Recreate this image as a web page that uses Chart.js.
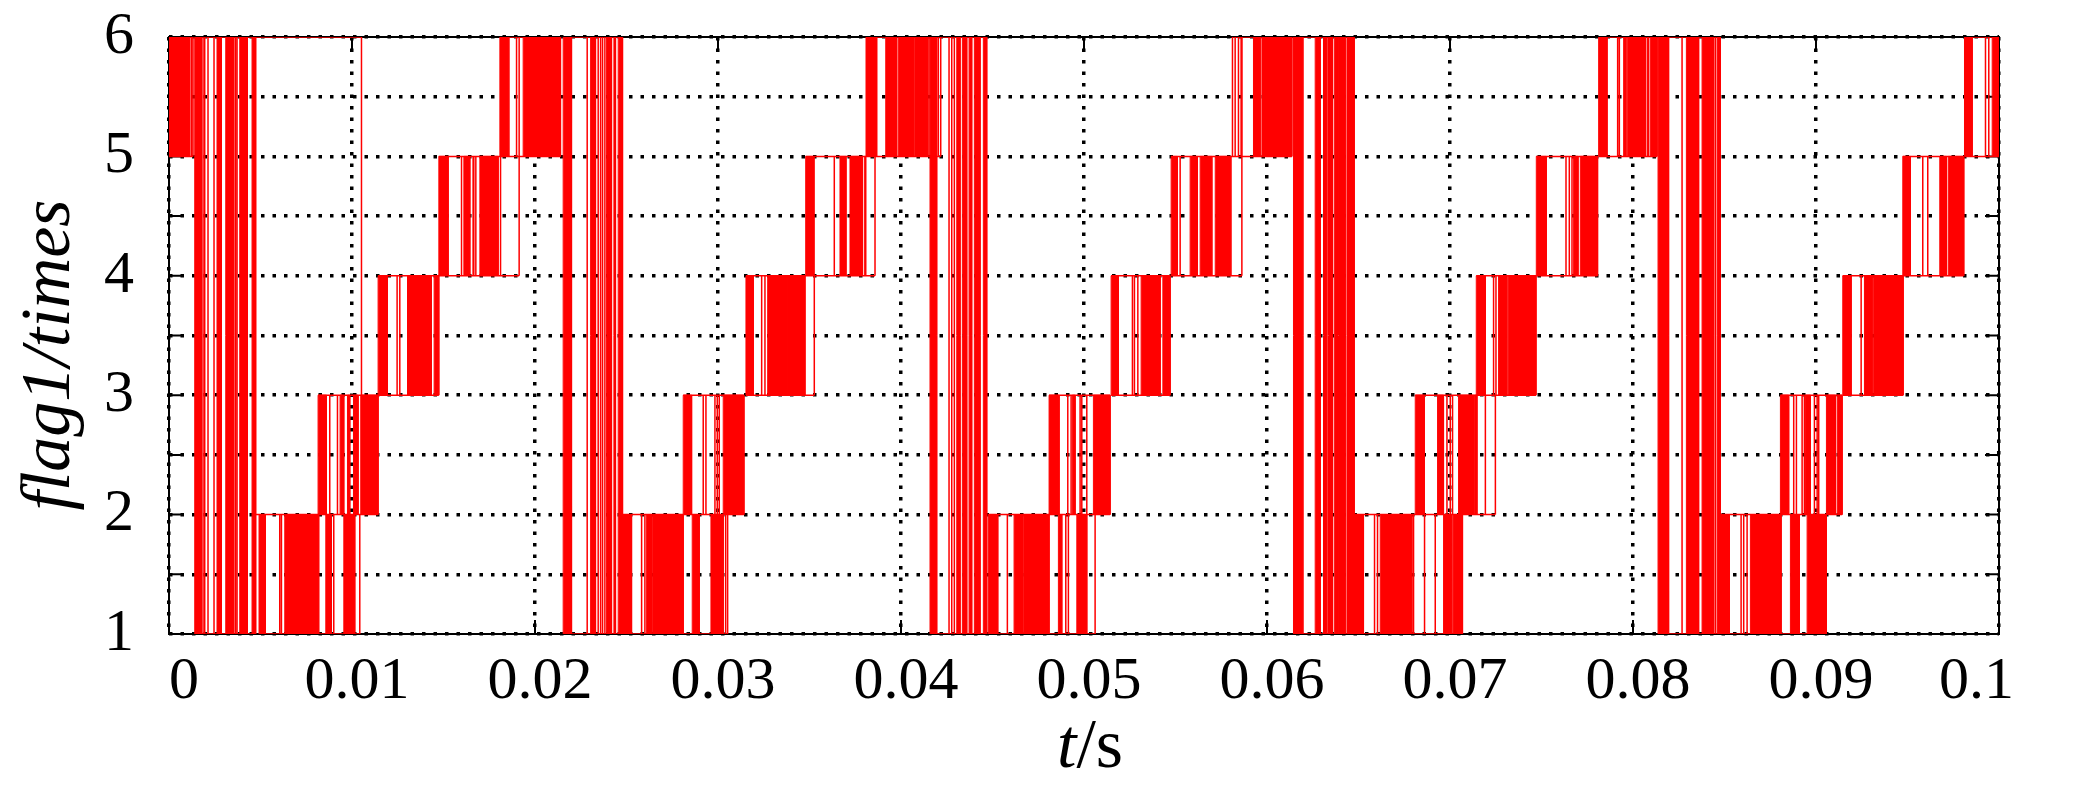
<!DOCTYPE html>
<html>
<head>
<meta charset="utf-8">
<script src="https://cdn.jsdelivr.net/npm/chart.js@4.4.0/dist/chart.umd.min.js"></script>
<style>
  html, body { margin: 0; padding: 0; background: #fff; }
</style>
</head>
<body>
<canvas id="flagChart" width="2078" height="785"></canvas>
<script>
// flag1 sector signal, all times in ms (axis is in s)
// one entry per sector: time span and the two levels it toggles between
const sectorStart = [0, 1.405, 4.740, 4.920, 8.146, 11.426, 14.744, 18.079, 21.540, 24.787, 28.100, 31.527, 34.791, 38.088, 41.586, 44.774,
    48.092, 51.482, 54.762, 58.113, 61.448, 64.766, 68.101, 71.436, 74.716, 78.122, 81.369, 84.774, 88.055, 91.461, 94.741, 98.114]
const sectorEnd = [1.312, 4.740, 10.518, 10.425, 11.426, 14.744, 19.134, 21.398, 24.787, 30.527, 31.418, 35.262, 38.580, 42.171, 44.686, 50.607,
    51.427, 54.707, 58.627, 61.360, 64.766, 70.687, 72.480, 74.699, 78.067, 81.314, 84.774, 90.570, 91.428, 94.763, 98.076, 100]
const sectorLo = [5, 1, 2, 1, 2, 3, 4, 5, 1, 1, 2, 3, 4, 5, 1, 1, 2, 3, 4, 5, 1, 1, 2, 3, 4, 5, 1, 1, 2, 3, 4, 5]
const sectorHi = [6, 6, 6, 2, 3, 4, 5, 6, 6, 2, 3, 4, 5, 6, 6, 2, 3, 4, 5, 6, 6, 2, 3, 4, 5, 6, 6, 2, 3, 4, 5, 6]

// dense chatter (looks solid): start/end pairs per sector
const bandEdges = [
    [0, 1.132],
    [1.405, 1.771, 2.624, 2.865, 3.100, 3.537, 3.865, 4.286, 4.538, 4.685],
    [],
    [4.920, 5.270, 6.325, 8.113, 8.567, 8.878, 9.551, 10.152],
    [8.146, 8.605, 9.348, 9.551, 9.753, 9.879, 10.081, 10.333, 10.480, 11.426],
    [11.426, 11.940, 13.033, 14.345, 14.487, 14.744],
    [14.744, 15.253, 16.111, 16.439, 16.986, 17.986],
    [18.079, 18.571, 19.353, 21.398],
    [21.540, 21.999, 23.038, 23.311, 23.912, 24.185, 24.311, 24.404, 24.546, 24.787],
    [24.787, 25.279, 26.099, 26.372, 26.427, 28.100, 28.592, 28.975, 29.614, 30.286],
    [28.100, 28.559, 30.286, 31.418],
    [31.527, 31.927, 32.714, 33.786, 33.824, 34.753],
    [34.791, 35.245, 36.666, 36.994, 37.213, 37.886, 37.995, 38.072],
    [38.088, 38.673, 39.165, 39.766, 39.854, 40.674, 40.729, 41.461],
    [41.586, 41.953, 43.046, 43.227, 43.353, 43.593, 43.719, 43.866, 44.008, 44.320, 44.500, 44.686],
    [44.774, 45.288, 46.179, 46.632, 46.687, 48.092, 48.601, 48.787, 49.606, 50.153],
    [48.092, 48.639, 49.366, 49.514, 50.514, 51.427],
    [51.482, 51.881, 53.122, 54.161, 54.308, 54.707],
    [54.762, 55.106, 55.800, 56.199, 56.347, 56.987, 57.172, 58.026],
    [58.572, 58.627, 59.261, 59.627, 59.720, 61.360],
    [61.448, 61.962, 62.634, 62.907, 63.088, 63.274, 63.361, 63.580, 63.673, 63.853, 63.908, 64.274, 64.367, 64.766],
    [64.766, 65.275, 66.187, 67.920, 69.648, 70.107, 70.194, 70.687],
    [68.101, 68.593, 69.320, 69.648, 70.468, 71.288, 71.343, 71.473],
    [71.436, 71.933, 72.654, 73.114, 73.201, 74.699],
    [74.716, 75.262, 76.755, 76.996, 77.121, 78.067],
    [78.122, 78.581, 79.488, 79.619, 79.707, 80.674, 80.767, 80.855, 80.948, 81.314],
    [81.369, 81.948, 82.917, 83.588, 83.774, 84.409, 84.594, 84.774],
    [84.774, 85.267, 86.415, 88.094, 88.602, 89.094, 89.515, 90.570],
    [88.055, 88.509, 89.422, 89.695, 90.570, 91.062, 91.155, 91.428],
    [91.461, 91.920, 92.647, 93.068, 93.123, 94.763],
    [94.741, 95.162, 96.763, 97.130, 97.223, 98.076],
    [98.114, 98.535, 99.628, 100]
]

// single isolated switchings (thin lines) per sector
const spikeTimes = [
    [1.225, 1.312],
    [1.859, 1.952, 2.132, 2.460, 3.630, 3.718, 4.740],
    [10.518],
    [6.052, 6.145, 8.184, 9.004, 10.425],
    [8.785, 9.206],
    [12.465, 12.612],
    [15.985, 16.619, 16.657, 16.767, 18.117, 19.134],
    [18.992, 19.134],
    [22.852, 23.453, 23.584, 23.693, 23.819],
    [25.826, 26.006, 30.418, 30.527],
    [29.193, 29.341, 29.833, 29.959, 30.068],
    [32.386, 32.566, 35.262],
    [36.355, 38.580],
    [41.532, 42.040, 42.171],
    [42.625, 42.773, 42.915],
    [45.812, 49.005, 49.147, 50.607],
    [49.114, 49.295, 49.787, 49.880, 50.153],
    [52.646, 52.756, 52.942],
    [55.254, 58.627],
    [58.113, 58.260, 58.441],
    [],
    [65.876, 66.040, 68.008, 68.609, 69.194],
    [69.834, 70.014, 70.140, 71.933, 72.480],
    [72.381, 72.512],
    [76.339, 76.520, 76.667],
    [79.161, 79.254],
    [82.681, 84.501],
    [85.907, 86.049, 86.235],
    [88.782, 88.930, 89.241, 89.367, 89.914, 90.062, 90.149],
    [92.467],
    [95.834, 96.107],
    [99.262, 99.442]
]

const xTicks = [0, 0.01, 0.02, 0.03, 0.04, 0.05, 0.06, 0.07, 0.08, 0.09, 0.1]
const yTicks = [1, 2, 3, 4, 5, 6]

const RED = '#ff0000'
const FONT = '"Liberation Serif", "Times New Roman", serif'
const sec = t => t / 1000

const datasets = []

bandEdges.forEach((edges, s) => {
    const lo = sectorLo[s], hi = sectorHi[s]
    for (let i = 0; i < edges.length; i += 2) {
        datasets.push({
            data: [{x: sec(edges[i]), y: lo}, {x: sec(edges[i]), y: hi}, {x: sec(edges[i + 1]), y: hi}, {x: sec(edges[i + 1]), y: lo}],
            borderColor: RED,
            backgroundColor: RED,
            borderWidth: 1,
            fill: {value: lo},
        })
    }
})

const spikePts = []
spikeTimes.forEach((times, s) => {
    times.forEach(t => {
        spikePts.push({x: sec(t), y: sectorLo[s]}, {x: sec(t), y: sectorHi[s]}, {x: sec(t), y: null})
    })
})
datasets.push({data: spikePts, borderColor: RED, borderWidth: 1.5, fill: false})

// level lines the signal rests on inside each sector
const runPts = []
sectorStart.forEach((t0, s) => {
    const t1 = sectorEnd[s]
    runPts.push({x: sec(t0), y: sectorLo[s]}, {x: sec(t1), y: sectorLo[s]}, {x: sec(t1), y: null})
    runPts.push({x: sec(t0), y: sectorHi[s]}, {x: sec(t1), y: sectorHi[s]}, {x: sec(t1), y: null})
})
datasets.push({data: runPts, borderColor: RED, borderWidth: 1.5, fill: false})

const framePlugin = {
    id: 'frame',
    beforeDatasetsDraw (chart) {
        const {ctx, chartArea: a, scales} = chart
        ctx.save()
        ctx.strokeStyle = '#000'
        ctx.lineWidth = 2
        ctx.strokeRect(a.left, a.top, a.right - a.left, a.bottom - a.top)
        ctx.beginPath()
        for (let v = 1; v <= 6; v += 0.5) {
            const y = scales.y.getPixelForValue(v)
            ctx.moveTo(a.left, y); ctx.lineTo(a.left + 14, y)
            ctx.moveTo(a.right, y); ctx.lineTo(a.right - 14, y)
        }
        xTicks.forEach(v => {
            const x = scales.x.getPixelForValue(v)
            ctx.moveTo(x, a.bottom); ctx.lineTo(x, a.bottom - 14)
            ctx.moveTo(x, a.top); ctx.lineTo(x, a.top + 14)
        })
        ctx.stroke()
        ctx.restore()
    },
    afterDraw (chart) {
        const {ctx, chartArea: a, scales} = chart
        ctx.save()
        ctx.fillStyle = '#000'
        ctx.textBaseline = 'alphabetic'
        // x tick labels, kept inside the figure at both ends
        ctx.font = '60px ' + FONT
        ctx.textAlign = 'left'
        xTicks.forEach(v => {
            const txt = String(v)
            const w = ctx.measureText(txt).width
            let left = scales.x.getPixelForValue(v) + 5 - w / 2
            left = Math.max(a.left, Math.min(left, chart.width - 64 - w))
            ctx.fillText(txt, left, 698)
        })
        // x title: italic t, upright /s
        ctx.font = 'italic 70px ' + FONT
        const wt = ctx.measureText('t').width
        ctx.font = '70px ' + FONT
        const ws = ctx.measureText('/s').width
        const x = (a.left + a.right) / 2 + 6 - (wt + ws) / 2
        ctx.font = 'italic 70px ' + FONT
        ctx.fillText('t', x, 767)
        ctx.font = '70px ' + FONT
        ctx.fillText('/s', x + wt, 767)
        // y title
        ctx.translate(69, 355)
        ctx.rotate(-Math.PI / 2)
        ctx.font = 'italic 70px ' + FONT
        ctx.textAlign = 'center'
        ctx.fillText('flag1/times', 0, 0)
        ctx.restore()
    }
}

const gridStyle = {color: '#000', lineWidth: 3.5, drawTicks: false}

new Chart(document.getElementById('flagChart'), {
    type: 'line',
    data: {datasets},
    options: {
        responsive: false,
        animation: false,
        events: [],
        elements: {point: {radius: 0}, line: {tension: 0}},
        layout: {padding: {top: 37, right: 79, left: 0, bottom: 0}},
        plugins: {legend: {display: false}, tooltip: {enabled: false}},
        scales: {
            x: {
                type: 'linear',
                min: 0,
                max: 0.1,
                afterBuildTicks: s => { s.ticks = xTicks.map(v => ({value: v})) },
                afterFit: s => {
                    s.height = 151
                    s.paddingLeft = 0
                    s.paddingRight = 0
                },
                ticks: {display: false},
                grid: gridStyle,
                border: {display: false, dash: [3.5, 8]}
            },
            y: {
                min: 1,
                max: 6,
                afterBuildTicks: s => {
                    const t = []
                    for (let v = 1; v <= 6; v += 0.5) t.push({value: v})
                    s.ticks = t
                },
                afterFit: s => {
                    s.width = 169
                    s.paddingTop = 0
                    s.paddingBottom = 0
                },
                ticks: {
                    padding: 35,
                    autoSkip: false,
                    color: '#000',
                    font: {family: FONT, size: 60},
                    callback: v => yTicks.includes(v) ? String(v) : ''
                },
                grid: gridStyle,
                border: {display: false, dash: [3.5, 8]}
            }
        }
    },
    plugins: [framePlugin]
})
</script>
</body>
</html>
